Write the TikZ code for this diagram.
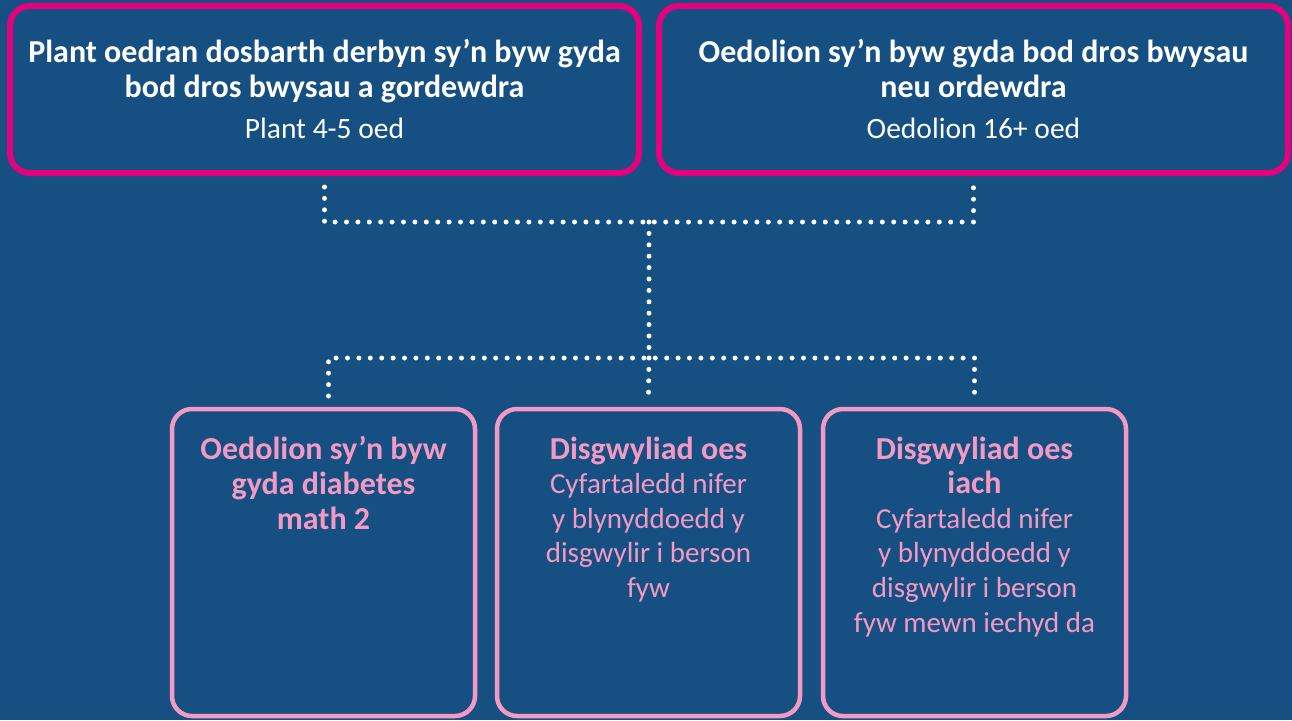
\documentclass[tikz,border=0pt]{standalone}
\usepackage{fontspec}
\setmainfont{Carlito}
\usetikzlibrary{positioning}
\definecolor{fondoazul}{HTML}{164F82}
\definecolor{magentaGA}{HTML}{E5007E}
\definecolor{rosado}{HTML}{F29AC3}

\begin{document}
\begin{tikzpicture}[x=1pt,y=-1pt,
  cajasup/.style={draw=magentaGA,line width=6pt,rounded corners=20pt,
    minimum width=629pt,minimum height=167pt,inner sep=0pt,outer sep=0pt,anchor=north west},
  cajainf/.style={draw=rosado,line width=4.5pt,rounded corners=20pt,
    minimum width=303pt,minimum height=307pt,inner sep=0pt,outer sep=0pt,anchor=north west},
  puntos/.style={white,line width=5pt,line cap=round,dash pattern=on 0pt off 11.4pt},
  titsup/.style={anchor=north,align=center,text=white,inner sep=0pt,
    font=\fontsize{32}{35}\selectfont\bfseries},
  titinf/.style={anchor=north,align=center,text=rosado,inner sep=0pt,
    font=\fontsize{29}{34.6}\selectfont}]
  \fill[fondoazul] (0,0) rectangle (1292,720);
  \useasboundingbox (0,0) rectangle (1292,720);

  \node[cajasup] (tl) at (10,6) {};
  \node[cajasup] (tr) at (659,6) {};
  \node[cajainf] (b1) at (172,409) {};
  \node[cajainf] (b2) at (497,409) {};
  \node[cajainf] (b3) at (823,409) {};

  \node[titsup] (tl-txt) at ([yshift=-33pt]tl.north)
    {Plant oedran dosbarth derbyn sy’n byw gyda\\bod dros bwysau a gordewdra\\[6pt]
     {\fontsize{29.5}{35}\selectfont\mdseries Plant 4-5 oed}};
  \node[titsup] (tr-txt) at ([yshift=-33pt]tr.north)
    {Oedolion sy’n byw gyda bod dros bwysau\\neu ordewdra\\[6pt]
     {\fontsize{29.5}{35}\selectfont\mdseries Oedolion 16+ oed}};

  \node[titinf,font=\fontsize{32}{34.6}\selectfont\bfseries] (b1-txt) at ([yshift=-27.5pt]b1.north)
    {Oedolion sy’n byw\\gyda diabetes\\math 2};
  \node[titinf] (b2-txt) at ([yshift=-27.5pt]b2.north)
    {{\fontsize{32}{34.6}\selectfont\bfseries Disgwyliad oes}\\Cyfartaledd nifer\\y blynyddoedd y\\disgwylir i berson\\fyw};
  \node[titinf] (b3-txt) at ([yshift=-27.5pt]b3.north)
    {{\fontsize{32}{34.6}\selectfont\bfseries Disgwyliad oes}\\{\fontsize{32}{34.6}\selectfont\bfseries iach}\\Cyfartaledd nifer\\y blynyddoedd y\\disgwylir i berson\\fyw mewn iechyd da};

  \coordinate (enlace) at (649,222);
  \coordinate (reparto) at (649,358);
  \draw[puntos] ([yshift=-14pt]tl.south) |- (enlace) -| ([yshift=-14pt]tr.south);
  \draw[puntos] (enlace) -- (reparto);
  \draw[puntos] ([xshift=5pt,yshift=13pt]b1.north) |- (reparto) -| ([yshift=13pt]b3.north);
  \draw[puntos] (reparto) -- ([yshift=13pt]b2.north);
\end{tikzpicture}
\end{document}
